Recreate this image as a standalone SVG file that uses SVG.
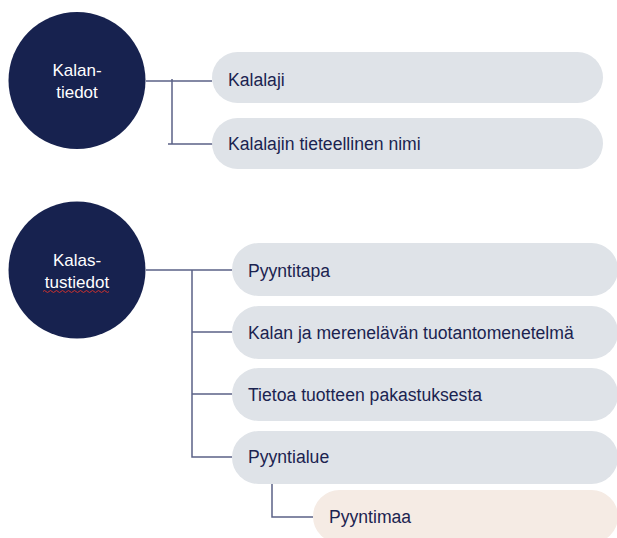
<svg xmlns="http://www.w3.org/2000/svg" width="617" height="538" viewBox="0 0 617 538">
<style>
.hub{fill:#17224f}
.hubt{fill:#ffffff;font-family:"Liberation Sans",Arial,sans-serif;font-size:17px;text-anchor:middle}
.pill{fill:#dfe3e8}
.pill2{fill:#f5ebe4}
.lbl{fill:#1b2350;font-family:"Liberation Sans",Arial,sans-serif;font-size:17.6px}
.con{fill:none;stroke:#5b6287;stroke-width:1.5}
</style>
<rect width="617" height="538" fill="#ffffff"/>
<g id="connectors">
<path class="con" d="M146 81 H212 M172 79 V144 M168 144 H213"/>
<path class="con" d="M146 270 H232 M192 270 V457 H232 M192 332 H232 M192 394 H232"/>
<path class="con" d="M272 483 V517 H313"/>
</g>
<g id="kalantiedot">
<circle class="hub" cx="77" cy="80.5" r="68.5"/>
<text class="hubt" x="77" y="76">Kalan-</text>
<text class="hubt" x="77" y="98">tiedot</text>
</g>
<g id="kalalaji">
<rect class="pill" x="212" y="52" width="391" height="51" rx="25.5"/>
<text class="lbl" x="228" y="86">Kalalaji</text>
</g>
<g id="tieteellinen">
<rect class="pill" x="212" y="118" width="391" height="51" rx="25.5"/>
<text class="lbl" x="228" y="150">Kalalajin tieteellinen nimi</text>
</g>
<g id="kalastustiedot">
<circle class="hub" cx="77" cy="270" r="68.5"/>
<text class="hubt" x="77" y="266">Kalas-</text>
<text class="hubt" x="77" y="288">tustiedot</text>
<path d="M43 291.5 q1.5 -2 3 0 t3 0 t3 0 t3 0 t3 0 t3 0 t3 0 t3 0 t3 0 t3 0 t3 0 t3 0 t3 0 t3 0 t3 0 t3 0 t3 0 t3 0 t3 0 t3 0 t3 0 t3 0" fill="none" stroke="#d0312d" stroke-width="1"/>
</g>
<g id="pyyntitapa">
<rect class="pill" x="232" y="243" width="386" height="53" rx="26.5"/>
<text class="lbl" x="248" y="277">Pyyntitapa</text>
</g>
<g id="tuotantomenetelma">
<rect class="pill" x="232" y="306" width="386" height="53" rx="26.5"/>
<text class="lbl" x="248" y="339">Kalan ja merenelävän tuotantomenetelmä</text>
</g>
<g id="pakastus">
<rect class="pill" x="232" y="368" width="386" height="53" rx="26.5"/>
<text class="lbl" x="248" y="401">Tietoa tuotteen pakastuksesta</text>
</g>
<g id="pyyntialue">
<rect class="pill" x="232" y="431" width="386" height="53" rx="26.5"/>
<text class="lbl" x="248" y="463">Pyyntialue</text>
</g>
<g id="pyyntimaa">
<rect class="pill2" x="313" y="490" width="305" height="53" rx="26.5"/>
<text class="lbl" x="329" y="523">Pyyntimaa</text>
</g>
</svg>
